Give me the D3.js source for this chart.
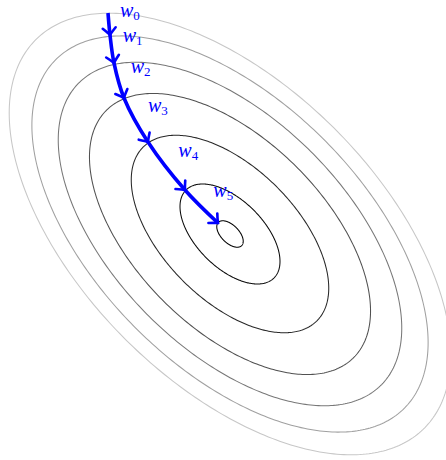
<!DOCTYPE html>
<html>
<head>
<meta charset="utf-8">
<script src="https://cdn.jsdelivr.net/npm/d3@7"></script>
<style>
  body { margin: 0; background: #fff; }
  svg { display: block; }
</style>
</head>
<body>
<div id="chart"></div>
<script>
// contour levels of the cost f(w) (outer -> inner)
const levels = [19.5, 15.7, 11.8, 7.9, 3.9, 1.0, 0.07];
// correlation of the quadratic bowl
const rho = -0.548;
// gradient descent iterates w0..w6
const wx = [-2.44, -2.40, -2.32, -2.12, -1.64, -0.90, -0.24];
const wy = [4.42, 3.98, 3.42, 2.72, 1.84, 0.88, 0.22];
const subs = ["0", "1", "2", "3", "4", "5"];

// label placement (pixel offset from its iterate)
const labelOffset = [[12, 3.5], [12.7, 6.7], [16.7, 10], [24, 13.7], [30.3, 14.7], [28.3, 6.7]];

const width = 446, height = 460;

const svg = d3.select('#chart')
    .append('svg')
    .attr('width', width)
    .attr('height', height);

const xScale = d3.scaleLinear().domain([-4.6, 4.32]).range([0, width]);
const yScale = d3.scaleLinear().domain([-4.52, 4.68]).range([height, 0]);

const grey = d3.scaleLinear().domain([0, 20]).range(['#000000', '#cccccc']);

// contour ellipses: w = sqrt(c) * L * (cos t, sin t), L = chol of covariance
const s = Math.sqrt(1 - rho * rho);
const thetas = d3.range(0, 2 * Math.PI, Math.PI / 180);
const ellipse = d3.line()
    .x(d => xScale(d[0]))
    .y(d => yScale(d[1]))
    .curve(d3.curveLinearClosed);

svg.append('g')
    .selectAll('path')
    .data(levels)
    .join('path')
    .attr('d', c => {
        let r = Math.sqrt(c);
        return ellipse(thetas.map(t => [r * Math.cos(t), r * (rho * Math.cos(t) + s * Math.sin(t))]));
    })
    .attr('fill', 'none')
    .attr('stroke', c => grey(c))
    .attr('stroke-width', 1.05);

// arrow head
svg.append('defs')
    .append('marker')
    .attr('id', 'arr')
    .attr('markerUnits', 'userSpaceOnUse')
    .attr('viewBox', '-12 -10 14 20')
    .attr('markerWidth', 14)
    .attr('markerHeight', 20)
    .attr('refX', 0)
    .attr('refY', 0)
    .attr('orient', 'auto')
    .append('path')
    .attr('d', 'M-7,-6.5 Q-2,-1.5 0,0 Q-2,1.5 -7,6.5')
    .attr('fill', 'none')
    .attr('stroke', 'blue')
    .attr('stroke-width', 2.6)
    .attr('stroke-linecap', 'round');

const pts = wx.map((x, i) => [x, wy[i]]);

svg.append('path')
    .datum(pts)
    .attr('d', d3.line()
        .x(d => xScale(d[0]))
        .y(d => yScale(d[1]))
        .curve(d3.curveCatmullRom))
    .attr('fill', 'none')
    .attr('stroke', 'blue')
    .attr('stroke-width', 3.6)
    .attr('marker-mid', 'url(#arr)')
    .attr('marker-end', 'url(#arr)');

// labels w_i
const lab = svg.append('g')
    .selectAll('text')
    .data(subs)
    .join('text')
    .attr('x', (d, i) => xScale(wx[i]) + labelOffset[i][0])
    .attr('y', (d, i) => yScale(wy[i]) + labelOffset[i][1])
    .attr('fill', 'blue')
    .style('font-family', '"Liberation Serif", "DejaVu Serif", serif');

lab.append('tspan')
    .style('font-style', 'italic')
    .style('font-size', '20px')
    .text('w');
lab.append('tspan')
    .attr('dy', 3)
    .style('font-size', '13px')
    .text(d => d);
</script>
</body>
</html>
